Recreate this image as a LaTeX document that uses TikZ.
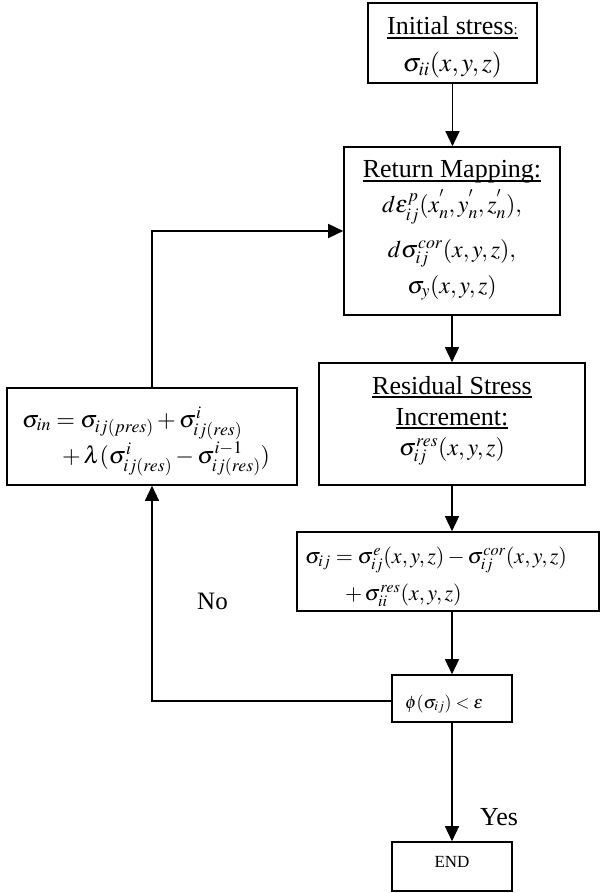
\documentclass[tikz,border=0pt]{standalone}
\usepackage{mathptmx}
\usepackage{fontspec}
\setmainfont{Liberation Serif}
\usetikzlibrary{arrows.meta}
\newcommand\szA{\fontsize{26}{30}\selectfont}
\newcommand\szB{\fontsize{24}{28}\selectfont}
\newcommand\szC{\fontsize{22}{26}\selectfont}
\newcommand\szD{\fontsize{18}{22}\selectfont}
\newcommand\szE{\fontsize{17}{20}\selectfont}
\newsavebox\ulbox
\newcommand\myul[1]{\sbox\ulbox{#1}\rlap{\rule[-4pt]{\wd\ulbox}{1.6pt}}\usebox\ulbox}
\tikzset{
  box/.style={draw, line width=1.6pt, inner sep=0pt},
  conn/.style={line width=1.4pt, -{Triangle[length=15pt,width=14pt]}},
  lbl/.style={inner sep=0pt, anchor=base},
  lblw/.style={inner sep=0pt, anchor=base west},
}
\begin{document}
\begin{tikzpicture}[x=1pt,y=-1pt]
\useasboundingbox (0,0) rectangle (600,893);
% boxes
\node[box, minimum width=169pt, minimum height=80pt] (init) at (452.5,43) {};
\node[box, minimum width=216pt, minimum height=168pt] (ret) at (452,231) {};
\node[box, minimum width=266pt, minimum height=122pt] (res) at (452,424) {};
\node[box, minimum width=302pt, minimum height=79pt] (eq) at (448,571.5) {};
\node[box, minimum width=120pt, minimum height=47pt] (phi) at (452,698.5) {};
\node[box, minimum width=120pt, minimum height=49pt] (end) at (452,866.5) {};
\node[box, minimum width=290pt, minimum height=97pt] (upd) at (152,436.5) {};
% texts
\node[lbl] (t1) at (452.5,35) {\szA\myul{Initial stress{\fontsize{15}{15}\selectfont:}}};
\node[lbl] (t2) at (452.5,72) {\szA$\sigma_{ii}(x,y,z)$};
\node[lbl] (r1) at (452,178) {\szA\myul{Return Mapping:}};
\node[lbl] (r2) at (452,213) {\szB$d\varepsilon_{ij}^{p}(x_{n}^{'},y_{n}^{'},z_{n}^{'}),$};
\node[lbl] (r3) at (452,257) {\szB$d\sigma_{ij}^{cor}(x,y,z),$};
\node[lbl] (r4) at (452,293) {\szB$\sigma_{y}(x,y,z)$};
\node[lbl] (s1) at (452,394) {\szA\myul{Residual Stress}};
\node[lbl] (s2) at (452,425) {\szA\myul{Increment:}};
\node[lbl] (s3) at (452,455) {\szB$\sigma_{ij}^{res}(x,y,z)$};
\node[lblw] (e1) at (305,563) {\szC$\sigma_{ij}=\sigma_{ij}^{e}(x,y,z)-\sigma_{ij}^{cor}(x,y,z)$};
\node[lblw] (e2) at (345,600) {\szC$+\,\sigma_{ii}^{res}(x,y,z)$};
\node[lblw] (u1) at (22,427) {\szB$\sigma_{in}=\sigma_{ij(pres)}+\sigma_{ij(res)}^{i}$};
\node[lblw] (u2) at (62,463) {\szB$+\,\lambda(\sigma_{ij(res)}^{i}-\sigma_{ij(res)}^{i-1})$};
\node[lblw] (p1) at (405,708) {\szD$\phi(\sigma_{ij})<\varepsilon$};
\node[lbl] (n1) at (452,867) {\szE END};
\node[lblw] (yes) at (480,825) {\szA Yes};
\node[lblw] (no) at (197,609) {\fontsize{25}{28}\selectfont No};
% connectors
\coordinate (c1) at (152,701);
\coordinate (c2) at (152,231);
\draw[conn] (init.south) -- (init.south |- ret.north);
\draw[conn] (ret.south) -- (ret.south |- res.north);
\draw[conn] (res.south) -- (res.south |- eq.north);
\draw[conn] (res.south |- eq.south) -- (phi.north);
\draw[conn] (phi.south) -- (end.north);
\draw[conn] (phi.west |- c1) -- (c1) -- (upd.south);
\draw[conn] (upd.north) -- (c2) -- (c2 -| ret.west);
\end{tikzpicture}
\end{document}
